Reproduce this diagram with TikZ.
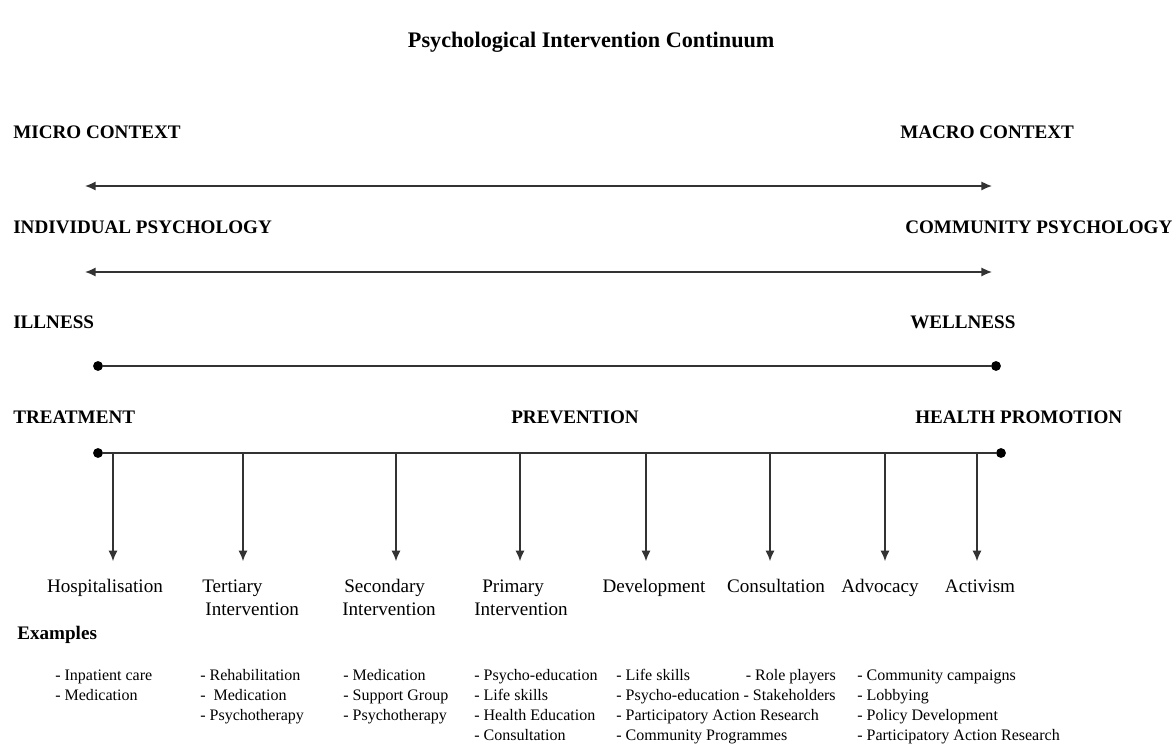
\documentclass[tikz,border=0pt]{standalone}
\usepackage{fontspec}
\setmainfont{Liberation Serif}
\usetikzlibrary{arrows.meta,positioning}

\begin{document}
\begin{tikzpicture}
    [
      title/.style={font=\fontsize{15.8}{18}\selectfont\bfseries,anchor=base,inner sep=0pt},
      heading/.style={font=\fontsize{13.6}{16}\selectfont\bfseries,anchor=base west,inner sep=0pt},
      level/.style={font=\fontsize{13.6}{16.4}\selectfont,anchor=base,inner sep=0pt,align=left},
      example/.style={font=\fontsize{11.4}{14.2}\selectfont,anchor=base west,inner sep=0pt,align=left},
      dot/.style={circle,fill=black,inner sep=0pt,minimum size=7pt},
      span/.style={<->,>={Latex[length=7.5pt,width=6.5pt]},line width=1pt,black!80},
      post/.style={->,>={Latex[length=7.5pt,width=6.5pt]},line width=1pt,black!80},
    ]
    \useasboundingbox (0,0) rectangle (29.35,-18.6);

    \node (title) [title] at (14.78,-1.2) {Psychological Intervention Continuum};

    % the four scales
    \node (micro) [heading] at (0.325,-3.475) {MICRO CONTEXT};
    \node (macro) [heading] at (22.5,-3.475) {MACRO CONTEXT};
    \coordinate (context-l) at (2.125,-4.65);
    \coordinate (context-r) at (24.8,-4.65);

    \node (individual) [heading] at (0.325,-5.85) {INDIVIDUAL PSYCHOLOGY};
    \node (community) [heading] at (22.625,-5.85) {COMMUNITY PSYCHOLOGY};
    \coordinate (psych-l) at (2.125,-6.8);
    \coordinate (psych-r) at (24.8,-6.8);

    \node (illness) [heading] at (0.325,-8.225) {ILLNESS};
    \node (wellness) [heading] at (22.75,-8.225) {WELLNESS};
    \node (health-l) [dot] at (2.45,-9.15) {};
    \node (health-r) [dot] at (24.9,-9.15) {};

    \node (treatment) [heading] at (0.325,-10.6) {TREATMENT};
    \node (prevention) [heading] at (12.775,-10.6) {PREVENTION};
    \node (promotion) [heading] at (22.875,-10.6) {HEALTH PROMOTION};
    \node (care-l) [dot] at (2.45,-11.325) {};
    \node (care-r) [dot] at (25.025,-11.325) {};

    \path
    (context-l) edge [span] (context-r)
    (psych-l) edge [span] (psych-r)
    (health-l) edge [line width=1pt,black!80] (health-r)
    (care-l) edge [line width=1pt,black!80] (care-r)
    ;

    % kinds of intervention (two-line nodes sit on their last line)
    \node (hosp) [level] at (2.625,-14.8) {Hospitalisation};
    \node (tertiary) [level,anchor=base west] at (5.05,-15.377) {Tertiary\\ \hspace*{0.08cm}Intervention};
    \node (secondary) [level,anchor=base west] at (8.55,-15.377) {\hspace*{0.05cm}Secondary\\Intervention};
    \node (primary) [level,anchor=base west] at (11.85,-15.377) {\hspace*{0.2cm}Primary\\Intervention};
    \node (develop) [level] at (16.35,-14.8) {Development};
    \node (consult) [level] at (19.4,-14.8) {Consultation};
    \node (advocacy) [level] at (22.0,-14.8) {Advocacy};
    \node (activism) [level] at (24.5,-14.8) {Activism};

    \coordinate (hosp-t) at (2.825,-11.36);
    \coordinate (hosp-b) at (2.825,-14.03);
    \coordinate (tertiary-t) at (6.075,-11.36);
    \coordinate (tertiary-b) at (6.075,-14.03);
    \coordinate (secondary-t) at (9.9,-11.36);
    \coordinate (secondary-b) at (9.9,-14.03);
    \coordinate (primary-t) at (13.0,-11.36);
    \coordinate (primary-b) at (13.0,-14.03);
    \coordinate (develop-t) at (16.15,-11.36);
    \coordinate (develop-b) at (16.15,-14.03);
    \coordinate (consult-t) at (19.25,-11.36);
    \coordinate (consult-b) at (19.25,-14.03);
    \coordinate (advocacy-t) at (22.125,-11.36);
    \coordinate (advocacy-b) at (22.125,-14.03);
    \coordinate (activism-t) at (24.425,-11.36);
    \coordinate (activism-b) at (24.425,-14.03);

    \path
    (hosp-t) edge [post] (hosp-b)
    (tertiary-t) edge [post] (tertiary-b)
    (secondary-t) edge [post] (secondary-b)
    (primary-t) edge [post] (primary-b)
    (develop-t) edge [post] (develop-b)
    (consult-t) edge [post] (consult-b)
    (advocacy-t) edge [post] (advocacy-b)
    (activism-t) edge [post] (activism-b)
    ;

    % examples
    \node (examples) [heading] at (0.425,-15.975) {Examples};
    \node (ex-hosp) [example] at (1.375,-17.5) {- Inpatient care\\- Medication};
    \node (ex-tertiary) [example] at (5.0,-18.0) {- Rehabilitation\\- \ Medication\\- Psychotherapy};
    \node (ex-secondary) [example] at (8.575,-18.0) {- Medication\\- Support Group\\- Psychotherapy};
    \node (ex-primary) [example] at (11.85,-18.5) {- Psycho-education\\- Life skills\\- Health Education\\- Consultation};
    \node (ex-develop) [example] at (15.4,-18.5) {- Life skills\\- Psycho-education\\- Participatory Action Research\\- Community Programmes};
    \node (ex-consult) [example,anchor=base east,align=right] at (20.9,-17.5) {- Role players\\- Stakeholders};
    \node (ex-advocacy) [example] at (21.425,-18.5) {- Community campaigns\\- Lobbying\\- Policy Development\\- Participatory Action Research};

  \end{tikzpicture}
\end{document}
